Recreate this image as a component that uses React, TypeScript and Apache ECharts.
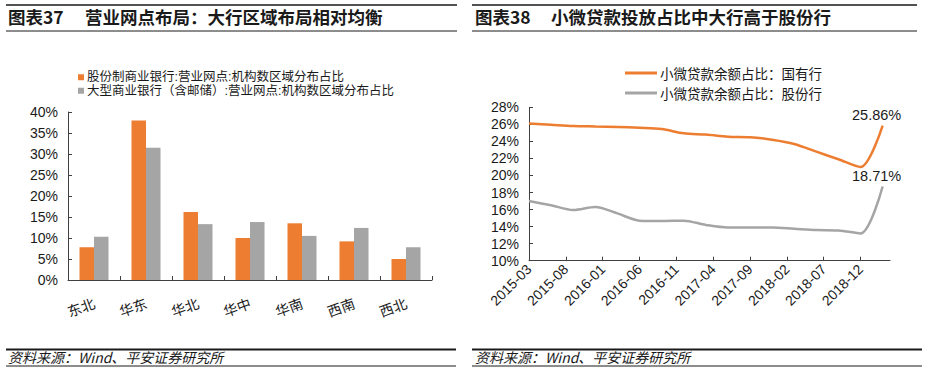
import React, { useEffect, useRef } from "react";
import * as echarts from "echarts";

// ---- Left chart data ----
const regions = ["东北", "华东", "华北", "华中", "华南", "西南", "西北"];
const jointStockShare = [7.8, 38.0, 16.2, 10.0, 13.5, 9.2, 5.0];
const largeBankShare = [10.3, 31.5, 13.3, 13.8, 10.5, 12.4, 7.8];
const leftNames = [
  "股份制商业银行:营业网点:机构数区域分布占比",
  "大型商业银行（含邮储）:营业网点:机构数区域分布占比",
];
const leftTicks = [0, 5, 10, 15, 20, 25, 30, 35, 40];

// ---- Right chart data ----
const quarterDates = [
  "2015-03", "2015-06", "2015-09", "2015-12",
  "2016-03", "2016-06", "2016-09", "2016-12",
  "2017-03", "2017-06", "2017-09", "2017-12",
  "2018-03", "2018-06", "2018-09", "2018-12",
  "2019-03",
];
const stateOwnedShare = [
  26.1, 25.95, 25.8, 25.75, 25.7, 25.6, 25.45, 24.95, 24.8, 24.55, 24.5, 24.2,
  23.7, 22.8, 21.9, 21.0, 25.86,
];
const jointStockMicroShare = [
  17.0, 16.5, 15.95, 16.3, 15.55, 14.7, 14.65, 14.7, 14.2, 13.9, 13.9, 13.9,
  13.75, 13.6, 13.55, 13.2, 18.71,
];
const rightNames = ["小微贷款余额占比：国有行", "小微贷款余额占比：股份行"];
const rightTicks = [10, 12, 14, 16, 18, 20, 22, 24, 26, 28];

function monthRange(start: string, end: string): string[] {
  const out: string[] = [];
  let [y, m] = start.split("-").map(Number);
  const [ey, em] = end.split("-").map(Number);
  while (y < ey || (y === ey && m <= em)) {
    out.push(`${y}-${String(m).padStart(2, "0")}`);
    m++;
    if (m > 12) {
      m = 1;
      y++;
    }
  }
  return out;
}
const months = monthRange("2015-03", "2019-04");

const ORANGE = "#ED7D31";
const GRAY = "#A5A5A5";
const AXIS = "#404040";
const FONT = "'Liberation Sans', Arial, 'Noto Sans CJK SC', sans-serif";
const CJK = "'Noto Sans CJK SC', 'Liberation Sans', sans-serif";

function lineSeries(name: string, vals: number[], color: string, labelText: string) {
  return {
    name,
    type: "line",
    xAxisIndex: 1,
    yAxisIndex: 1,
    smooth: 0.3,
    symbol: "circle",
    symbolSize: 0.01,
    showAllSymbol: true,
    lineStyle: { color, width: 2.5 },
    itemStyle: { color },
    data: quarterDates.map((d, i) => {
      const v = [d, vals[i]];
      if (i === quarterDates.length - 1) {
        return {
          value: v,
          label: {
            show: true,
            position: "top",
            distance: 3,
            offset: [-6, 0],
            formatter: labelText,
            fontSize: 14.5,
            color: "#1a1a1a",
            fontFamily: FONT,
          },
        };
      }
      return { value: v };
    }),
  };
}

export default function App() {
  const ref = useRef<HTMLDivElement>(null);
  useEffect(() => {
    if (!ref.current) return;
    const chart = echarts.init(ref.current, undefined, { renderer: "svg" });
    const titleLine = (x1: number, x2: number, y: number, w: number) => ({
      type: "line",
      shape: { x1, y1: y, x2, y2: y },
      style: { stroke: "#1a1a1a", lineWidth: w },
      silent: true,
    });
    const option: any = {
      animation: false,
      backgroundColor: "#ffffff",
      textStyle: { fontFamily: FONT },
      legend: [
        {
          data: leftNames,
          orient: "vertical",
          left: 78,
          top: 71,
          padding: 0,
          itemGap: 1,
          itemWidth: 6,
          itemHeight: 6,
          icon: "rect",
          textStyle: {
            fontSize: 12.5,
            lineHeight: 12.5,
            color: "#1a1a1a",
            fontFamily: FONT,
            padding: [0, 0, 0, -2],
          },
        },
        {
          data: rightNames,
          orient: "vertical",
          left: 625,
          top: 66,
          padding: 0,
          itemGap: 6,
          itemWidth: 32,
          itemHeight: 3,
          icon: "rect",
          textStyle: {
            fontSize: 13.5,
            lineHeight: 14,
            color: "#1a1a1a",
            fontFamily: CJK,
            padding: [0, 0, 0, -2],
          },
        },
      ],
      grid: [
        { left: 68, top: 112, width: 364, height: 168, containLabel: false },
        { left: 529, top: 107.3, width: 361, height: 153.4, containLabel: false },
      ],
      xAxis: [
        {
          gridIndex: 0,
          type: "category",
          data: regions,
          axisLine: { lineStyle: { color: AXIS, width: 1 } },
          axisTick: { show: true, inside: true, length: 4, lineStyle: { color: AXIS } },
          axisLabel: {
            rotate: 20,
            margin: 22,
            fontSize: 14,
            color: "#1a1a1a",
            fontFamily: CJK,
          },
        },
        {
          gridIndex: 1,
          type: "category",
          data: months,
          boundaryGap: false,
          axisLine: { lineStyle: { color: AXIS, width: 1 } },
          axisTick: {
            show: true,
            inside: true,
            length: 4,
            interval: 4,
            lineStyle: { color: AXIS },
          },
          axisLabel: {
            interval: 4,
            rotate: 45,
            margin: 6,
            fontSize: 14,
            color: "#1a1a1a",
          },
        },
      ],
      yAxis: [
        {
          gridIndex: 0,
          type: "value",
          min: leftTicks[0],
          max: leftTicks[leftTicks.length - 1],
          interval: 5,
          axisLine: { show: true, lineStyle: { color: AXIS, width: 1 } },
          axisTick: { show: true, inside: true, length: 4, lineStyle: { color: AXIS } },
          splitLine: { show: false },
          axisLabel: {
            formatter: "{value}%",
            fontSize: 14,
            margin: 10,
            color: "#1a1a1a",
          },
        },
        {
          gridIndex: 1,
          type: "value",
          min: rightTicks[0],
          max: rightTicks[rightTicks.length - 1],
          interval: 2,
          axisLine: { show: true, lineStyle: { color: AXIS, width: 1 } },
          axisTick: { show: true, inside: true, length: 4, lineStyle: { color: AXIS } },
          splitLine: { show: false },
          axisLabel: {
            formatter: "{value}%",
            fontSize: 14,
            margin: 10,
            color: "#1a1a1a",
          },
        },
      ],
      series: [
        {
          name: leftNames[0],
          type: "bar",
          xAxisIndex: 0,
          yAxisIndex: 0,
          data: jointStockShare,
          barWidth: 14.5,
          barGap: "0%",
          itemStyle: { color: ORANGE },
        },
        {
          name: leftNames[1],
          type: "bar",
          xAxisIndex: 0,
          yAxisIndex: 0,
          data: largeBankShare,
          barWidth: 14.5,
          barGap: "0%",
          itemStyle: { color: GRAY },
        },
        lineSeries(rightNames[0], stateOwnedShare, ORANGE, "25.86%"),
        lineSeries(rightNames[1], jointStockMicroShare, GRAY, "18.71%"),
      ],
      graphic: [
        titleLine(6, 457, 5, 1.5),
        titleLine(6, 457, 31, 1),
        titleLine(472, 917, 5, 1.5),
        titleLine(472, 917, 31, 1),
        {
          type: "text",
          left: 8,
          top: 8,
          style: {
            text: "图表37",
            font: `bold 17.5px ${CJK}`,
            fill: "#1a1a1a",
          },
        },
        {
          type: "text",
          left: 85,
          top: 8,
          style: {
            text: "营业网点布局：大行区域布局相对均衡",
            font: `bold 17.5px ${CJK}`,
            fill: "#1a1a1a",
          },
        },
        {
          type: "text",
          left: 475,
          top: 8,
          style: {
            text: "图表38",
            font: `bold 17.5px ${CJK}`,
            fill: "#1a1a1a",
          },
        },
        {
          type: "text",
          left: 551,
          top: 8,
          style: {
            text: "小微贷款投放占比中大行高于股份行",
            font: `bold 17.5px ${CJK}`,
            fill: "#1a1a1a",
          },
        },
        titleLine(6, 456, 349.5, 2),
        titleLine(6, 456, 366, 1),
        titleLine(472, 922, 349.5, 2),
        titleLine(472, 922, 366, 1),
        {
          type: "text",
          left: 8,
          top: 350,
          style: {
            text: "资料来源：Wind、平安证券研究所",
            font: `italic 14px ${CJK}`,
            fill: "#1a1a1a",
          },
        },
        {
          type: "text",
          left: 475,
          top: 350,
          style: {
            text: "资料来源：Wind、平安证券研究所",
            font: `italic 14px ${CJK}`,
            fill: "#1a1a1a",
          },
        },
      ],
    };
    chart.setOption(option);
    return () => chart.dispose();
  }, []);
  return (
    <div
      ref={ref}
      style={{
        position: "fixed",
        left: 0,
        top: 0,
        width: 925,
        height: 372,
        background: "#fff",
      }}
    />
  );
}
